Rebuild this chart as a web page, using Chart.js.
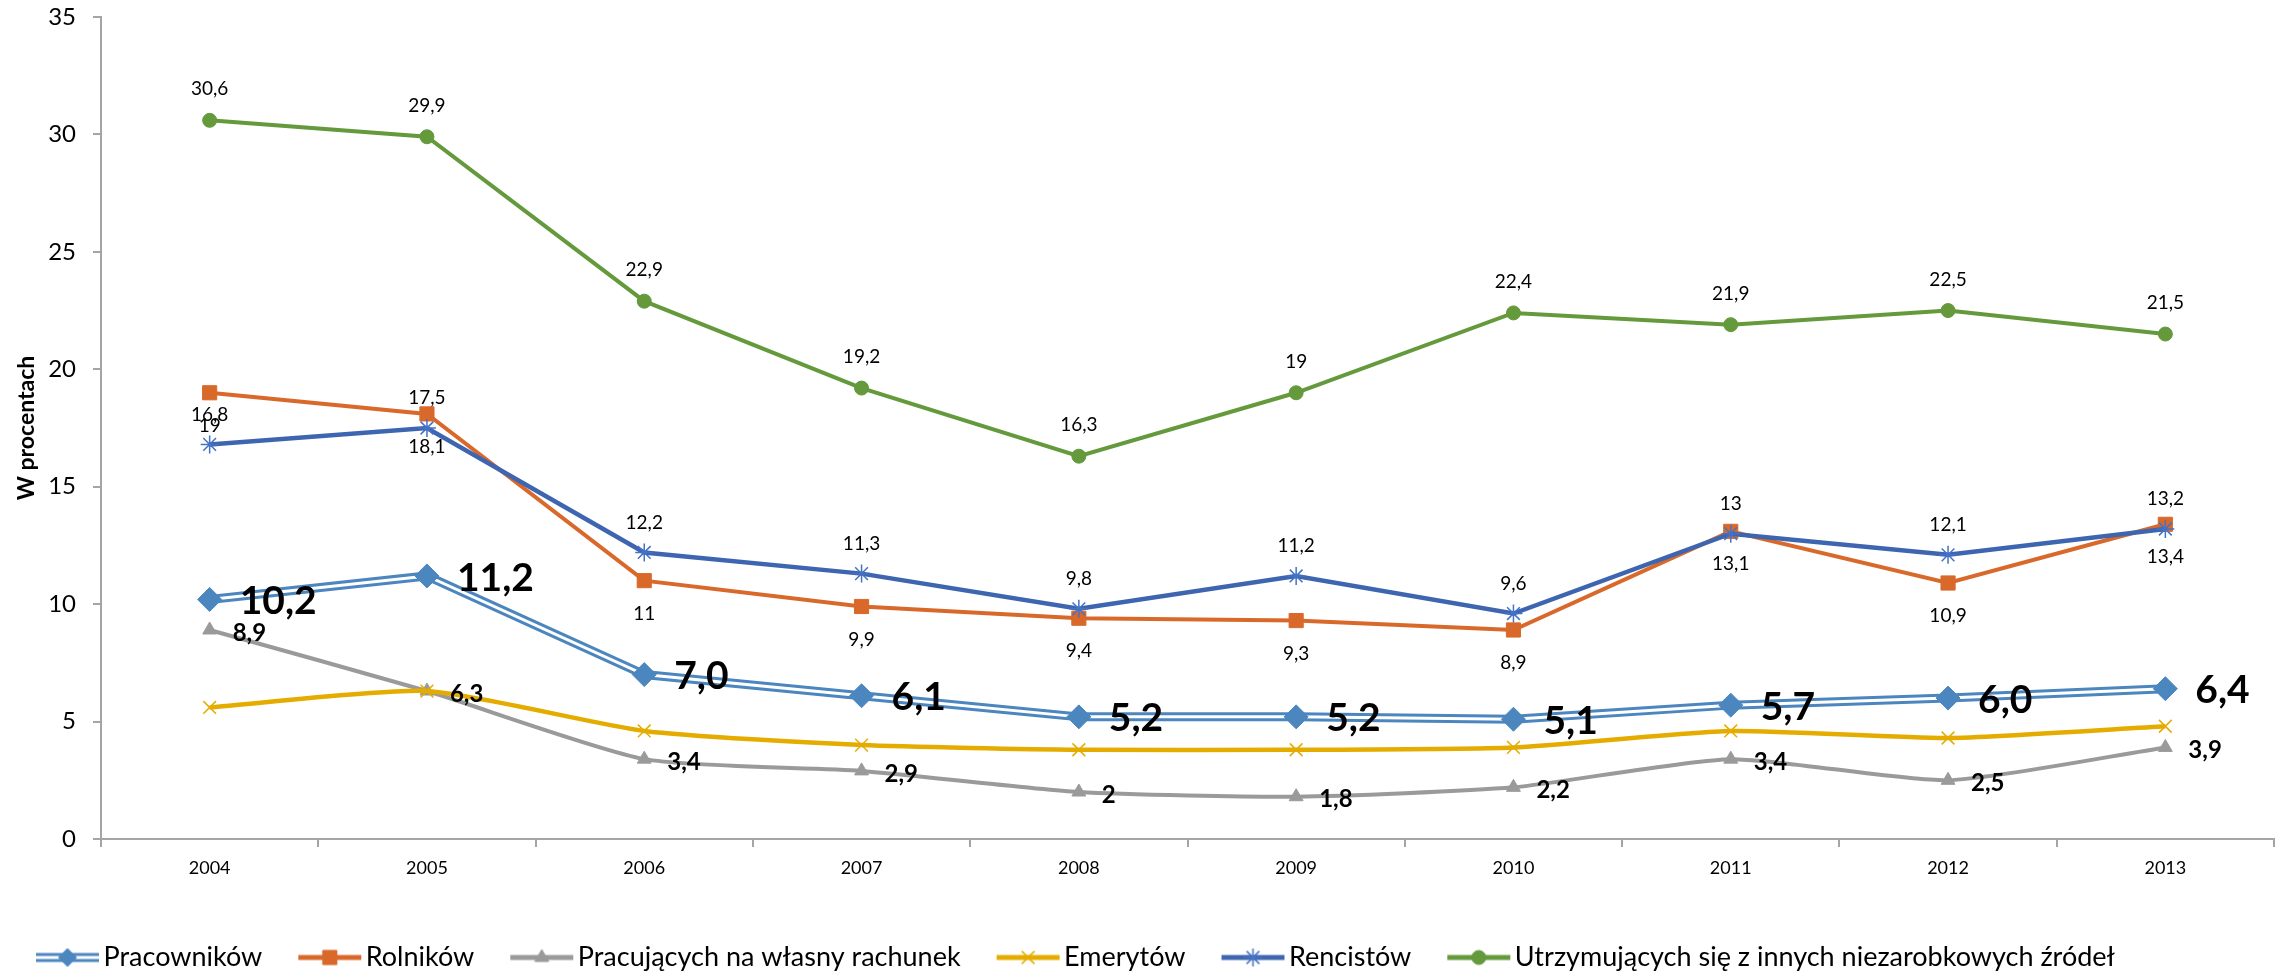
<!DOCTYPE html>
<html>
<head>
<meta charset="utf-8">
<script src="https://cdn.jsdelivr.net/npm/chart.js@4.4.1/dist/chart.umd.min.js"></script>
<style>
  html, body { margin: 0; padding: 0; background: #fff; }
  #wrap { width: 2290px; height: 976px; }
</style>
</head>
<body>
<div id="wrap"><canvas id="wykres" width="2290" height="976"></canvas></div>
<script>
// dane (w procentach)
const lata = ['2004', '2005', '2006', '2007', '2008', '2009', '2010', '2011', '2012', '2013'];
const pracownicy = [10.2, 11.2, 7.0, 6.1, 5.2, 5.2, 5.1, 5.7, 6.0, 6.4];
const rolnicy = [19, 18.1, 11, 9.9, 9.4, 9.3, 8.9, 13.1, 10.9, 13.4];
const naWlasnyRachunek = [8.9, 6.3, 3.4, 2.9, 2, 1.8, 2.2, 3.4, 2.5, 3.9];
const emeryci = [5.6, 6.3, 4.6, 4.0, 3.8, 3.8, 3.9, 4.6, 4.3, 4.8];
const rencisci = [16.8, 17.5, 12.2, 11.3, 9.8, 11.2, 9.6, 13, 12.1, 13.2];
const niezarobkowe = [30.6, 29.9, 22.9, 19.2, 16.3, 19, 22.4, 21.9, 22.5, 21.5];
const podzialkaY = [0, 5, 10, 15, 20, 25, 30, 35];
const nazwy = ['Pracowników', 'Rolników', 'Pracujących na własny rachunek', 'Emerytów', 'Rencistów',
  'Utrzymujących się z innych niezarobkowych źródeł'];

const NIEBIESKI = '#4C86BF';
const POMARANCZ = '#D9692B';
const SZARY = '#9A9A9A';
const ZOLTY = '#E5AC00';
const GRANAT = '#3E65B0';
const ZIELONY = '#64993C';

const przecinek = v => String(v).replace('.', ',');
const przecinek1 = v => v.toFixed(1).replace('.', ',');

const datasets = [
  { // Pracowników - zewnętrzna linia podwójnej linii
    label: nazwy[0], data: pracownicy, borderColor: NIEBIESKI, borderWidth: 9,
    pointRadius: 0, order: 9
  },
  { // biały środek podwójnej linii
    label: '_srodek', data: pracownicy, borderColor: '#ffffff', borderWidth: 3,
    pointRadius: 0, order: 8
  },
  { // znaczniki Pracowników
    label: '_romby', data: pracownicy, showLine: false, pointStyle: 'rectRot', pointRadius: 12,
    pointBackgroundColor: NIEBIESKI, pointBorderColor: NIEBIESKI, pointBorderWidth: 1, order: 7,
    etykiety: { pos: 'right', dx: 30, dy: 2, font: 'bold 39px Lato', fmt: przecinek1 }
  },
  {
    label: nazwy[1], data: rolnicy, borderColor: POMARANCZ, borderWidth: 4,
    pointStyle: 'rect', pointRadius: 10, pointBackgroundColor: POMARANCZ, pointBorderColor: POMARANCZ,
    pointBorderWidth: 1, order: 6,
    etykiety: { pos: 'below', dy: 33, font: '19px Lato', fmt: przecinek }
  },
  {
    label: nazwy[2], data: naWlasnyRachunek, borderColor: SZARY, borderWidth: 4, tension: 0.2,
    pointStyle: 'triangle', pointRadius: 8, pointBackgroundColor: SZARY, pointBorderColor: SZARY,
    pointBorderWidth: 1, order: 5,
    etykiety: { pos: 'right', dx: 23, dy: 3, font: 'bold 24px Lato', fmt: przecinek }
  },
  {
    label: nazwy[3], data: emeryci, borderColor: ZOLTY, borderWidth: 4.5, tension: 0.2,
    pointStyle: 'crossRot', pointRadius: 9, pointBorderColor: ZOLTY, pointBorderWidth: 1.5, order: 4
  },
  {
    label: nazwy[4], data: rencisci, borderColor: GRANAT, borderWidth: 4.5,
    pointStyle: 'star', pointRadius: 9, pointBorderColor: '#4472C4', pointBorderWidth: 1.5, order: 3,
    etykiety: { pos: 'above', dy: -30, font: '19px Lato', fmt: przecinek }
  },
  {
    label: nazwy[5], data: niezarobkowe, borderColor: ZIELONY, borderWidth: 4,
    pointStyle: 'circle', pointRadius: 7, pointBackgroundColor: ZIELONY, pointBorderColor: ZIELONY,
    pointBorderWidth: 1, order: 2,
    etykiety: { pos: 'above', dy: -31, font: '19px Lato', fmt: przecinek }
  }
];

// próbki legendy: linia + znacznik w jednym obrazku
function probka(linia, szer, znacznik, podwojna) {
  const c = document.createElement('canvas');
  c.width = 72; c.height = 30;
  const g = c.getContext('2d');
  const y = 15;
  g.strokeStyle = linia.kolor;
  g.lineWidth = szer;
  g.beginPath(); g.moveTo(8, y); g.lineTo(71, y); g.stroke();
  if (podwojna) {
    g.strokeStyle = '#fff'; g.lineWidth = 3;
    g.beginPath(); g.moveTo(8, y); g.lineTo(71, y); g.stroke();
  }
  g.fillStyle = znacznik.kolor;
  g.strokeStyle = znacznik.kolor;
  g.lineWidth = znacznik.bw;
  if (Chart.helpers && Chart.helpers.drawPoint) {
    Chart.helpers.drawPoint(g, { pointStyle: znacznik.styl, radius: znacznik.r, borderWidth: znacznik.bw, rotation: 0 }, 39.5, y);
  }
  return c;
}

const probki = [
  probka({ kolor: NIEBIESKI }, 9, { kolor: NIEBIESKI, styl: 'rectRot', r: 9, bw: 1 }, true),
  probka({ kolor: POMARANCZ }, 5, { kolor: POMARANCZ, styl: 'rect', r: 10, bw: 1 }),
  probka({ kolor: SZARY }, 5, { kolor: SZARY, styl: 'triangle', r: 8, bw: 1 }),
  probka({ kolor: ZOLTY }, 5, { kolor: ZOLTY, styl: 'crossRot', r: 9, bw: 1.5 }),
  probka({ kolor: GRANAT }, 5, { kolor: '#4472C4', styl: 'star', r: 9, bw: 1.5 }),
  probka({ kolor: ZIELONY }, 5, { kolor: ZIELONY, styl: 'circle', r: 7, bw: 1 })
];

const etykietyPlugin = {
  id: 'etykiety',
  afterDatasetsDraw(chart) {
    const ctx = chart.ctx;
    chart.data.datasets.forEach((ds, i) => {
      const cfg = ds.etykiety;
      if (!cfg) return;
      const meta = chart.getDatasetMeta(i);
      ctx.save();
      ctx.font = cfg.font;
      ctx.fillStyle = '#000';
      ctx.textBaseline = 'middle';
      meta.data.forEach((pt, j) => {
        const txt = cfg.fmt(ds.data[j]);
        if (cfg.pos === 'right') {
          ctx.textAlign = 'left';
          ctx.fillText(txt, pt.x + cfg.dx, pt.y + cfg.dy);
        } else {
          ctx.textAlign = 'center';
          ctx.fillText(txt, pt.x, pt.y + cfg.dy);
        }
      });
      ctx.restore();
    });
  }
};

const osKolor = '#A5A5A5';

new Chart(document.getElementById('wykres'), {
  type: 'line',
  data: { labels: lata, datasets: datasets },
  plugins: [etykietyPlugin],
  options: {
    responsive: false,
    animation: false,
    devicePixelRatio: 1,
    layout: { padding: { top: 17, right: 16, bottom: -5, left: 0 } },
    plugins: {
      tooltip: { enabled: false },
      legend: {
        position: 'bottom',
        align: 'start',
        labels: {
          usePointStyle: true,
          pointStyleWidth: 52,
          padding: 38,
          color: '#000',
          font: { family: 'Lato', size: 27 },
          generateLabels() {
            return nazwy.map((n, i) => ({
              text: n, pointStyle: probki[i], datasetIndex: i, hidden: false,
              fontColor: '#000', lineWidth: 0, strokeStyle: 'transparent', fillStyle: 'transparent'
            }));
          }
        }
      }
    },
    scales: {
      x: {
        offset: true,
        grid: { offset: true, drawOnChartArea: false, tickLength: 8, color: osKolor, lineWidth: 2 },
        border: { color: osKolor, width: 2 },
        ticks: { font: { family: 'Lato', size: 18 }, color: '#000', padding: 10, maxRotation: 0, autoSkip: false },
        afterFit(s) { s.height = 67; }
      },
      y: {
        min: 0, max: 35,
        afterBuildTicks(s) { s.ticks = podzialkaY.map(v => ({ value: v })); },
        grid: { drawOnChartArea: false, tickLength: 8, color: osKolor, lineWidth: 2 },
        border: { color: osKolor, width: 2 },
        ticks: { font: { family: 'Lato', size: 24 }, color: '#000', padding: 17 },
        title: {
          display: true, text: 'W procentach', color: '#000',
          font: { family: 'Lato', size: 23, weight: 'bold' },
          padding: { top: 13, bottom: 0 }
        },
        afterFit(s) {
          s.width = 101;
          s.paddingTop = 0;
          s.paddingBottom = 0;
        }
      }
    }
  }
});
</script>
</body>
</html>
